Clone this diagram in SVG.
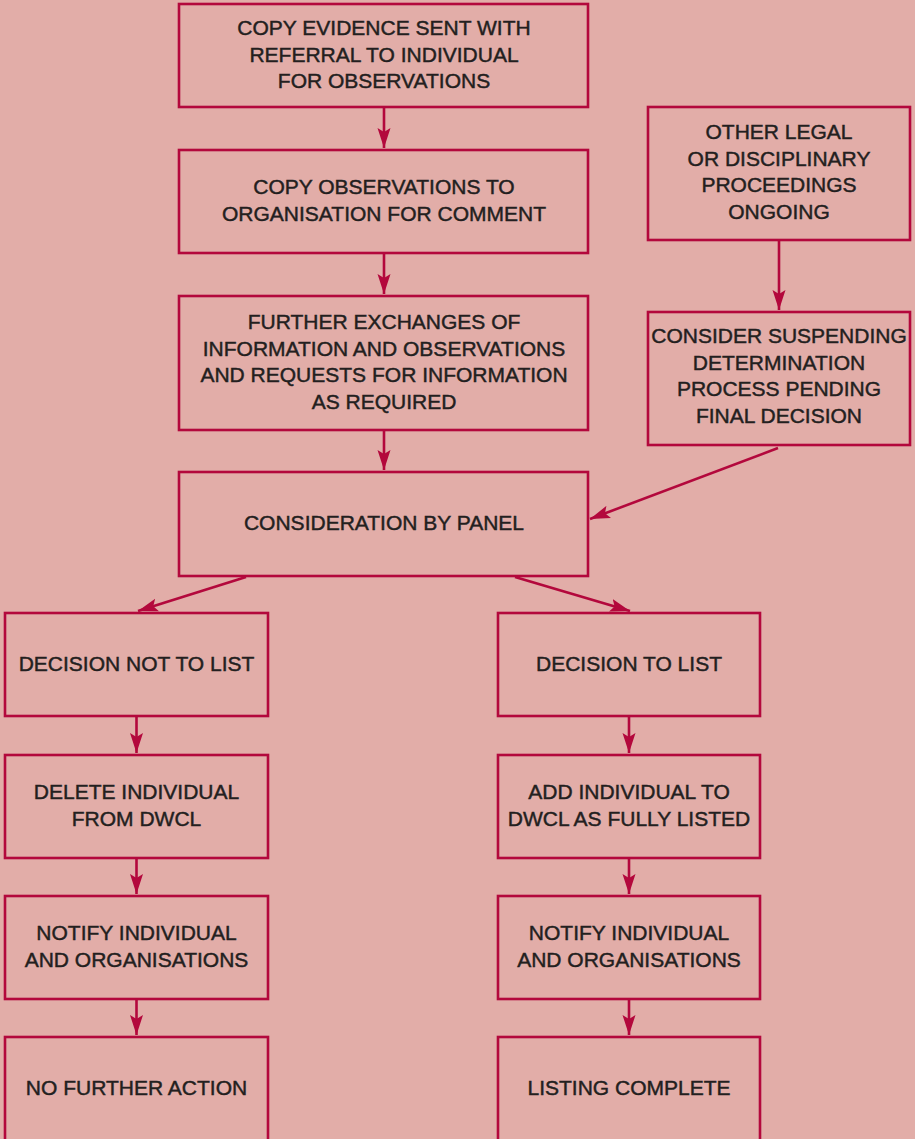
<svg xmlns="http://www.w3.org/2000/svg" width="915" height="1139" viewBox="0 0 915 1139">
<style>
.bx{fill:none;stroke:#B3083C;stroke-width:2.6}
.t{font-family:"Liberation Sans",Arial,sans-serif;font-size:21px;fill:#231F20;stroke:#231F20;stroke-width:0.45;text-anchor:middle}
.c{stroke:#B3083C;stroke-width:2.6;fill:none;marker-end:url(#ah)}
</style>
<defs>
<marker id="ah" markerUnits="userSpaceOnUse" markerWidth="22" markerHeight="14" refX="20" refY="6.5" orient="auto" viewBox="0 0 22 13">
<path d="M0,0 L20,6.5 L0,13 L4,6.5 z" fill="#B3083C"/>
</marker>
</defs>
<rect width="915" height="1139" fill="#E2ADA8"/>
<g id="n1"><rect class="bx" x="179" y="4" width="409" height="103"/>
<text class="t" x="384" y="35">COPY EVIDENCE SENT WITH</text>
<text class="t" x="384" y="61.5">REFERRAL TO INDIVIDUAL</text>
<text class="t" x="384" y="88">FOR OBSERVATIONS</text></g>
<g id="n2"><rect class="bx" x="179" y="150" width="409" height="103"/>
<text class="t" x="384" y="194">COPY OBSERVATIONS TO</text>
<text class="t" x="384" y="220.5">ORGANISATION FOR COMMENT</text></g>
<g id="n3"><rect class="bx" x="179" y="296" width="409" height="134"/>
<text class="t" x="384" y="329">FURTHER EXCHANGES OF</text>
<text class="t" x="384" y="355.5">INFORMATION AND OBSERVATIONS</text>
<text class="t" x="384" y="382">AND REQUESTS FOR INFORMATION</text>
<text class="t" x="384" y="408.5">AS REQUIRED</text></g>
<g id="n4"><rect class="bx" x="179" y="472" width="409" height="104"/>
<text class="t" x="384" y="530">CONSIDERATION BY PANEL</text></g>
<g id="n5"><rect class="bx" x="648" y="107" width="262" height="133"/>
<text class="t" x="779" y="139">OTHER LEGAL</text>
<text class="t" x="779" y="165.5">OR DISCIPLINARY</text>
<text class="t" x="779" y="192">PROCEEDINGS</text>
<text class="t" x="779" y="218.5">ONGOING</text></g>
<g id="n6"><rect class="bx" x="648" y="312" width="262" height="133"/>
<text class="t" x="779" y="343">CONSIDER SUSPENDING</text>
<text class="t" x="779" y="369.5">DETERMINATION</text>
<text class="t" x="779" y="396">PROCESS PENDING</text>
<text class="t" x="779" y="422.5">FINAL DECISION</text></g>
<g id="n7"><rect class="bx" x="5" y="613" width="263" height="103"/>
<text class="t" x="136.5" y="670.5">DECISION NOT TO LIST</text></g>
<g id="n8"><rect class="bx" x="5" y="755" width="263" height="103"/>
<text class="t" x="136.5" y="799">DELETE INDIVIDUAL</text>
<text class="t" x="136.5" y="825.5">FROM DWCL</text></g>
<g id="n9"><rect class="bx" x="5" y="896" width="263" height="103"/>
<text class="t" x="136.5" y="940">NOTIFY INDIVIDUAL</text>
<text class="t" x="136.5" y="966.5">AND ORGANISATIONS</text></g>
<g id="n10"><rect class="bx" x="5" y="1037" width="263" height="120"/>
<text class="t" x="136.5" y="1095">NO FURTHER ACTION</text></g>
<g id="n11"><rect class="bx" x="498" y="613" width="262" height="103"/>
<text class="t" x="629" y="670.5">DECISION TO LIST</text></g>
<g id="n12"><rect class="bx" x="498" y="755" width="262" height="103"/>
<text class="t" x="629" y="799">ADD INDIVIDUAL TO</text>
<text class="t" x="629" y="825.5">DWCL AS FULLY LISTED</text></g>
<g id="n13"><rect class="bx" x="498" y="896" width="262" height="103"/>
<text class="t" x="629" y="940">NOTIFY INDIVIDUAL</text>
<text class="t" x="629" y="966.5">AND ORGANISATIONS</text></g>
<g id="n14"><rect class="bx" x="498" y="1037" width="262" height="120"/>
<text class="t" x="629" y="1095">LISTING COMPLETE</text></g>
<g id="connectors">
<path class="c" d="M384,107 L384,148"/>
<path class="c" d="M384,253 L384,294"/>
<path class="c" d="M384,430 L384,470"/>
<path class="c" d="M779,240 L779,310"/>
<path class="c" d="M778,448 L590,519"/>
<path class="c" d="M246,577 L138,611"/>
<path class="c" d="M515,577 L630,611"/>
<path class="c" d="M136.5,716 L136.5,753"/>
<path class="c" d="M136.5,858 L136.5,894"/>
<path class="c" d="M136.5,999 L136.5,1035"/>
<path class="c" d="M629,716 L629,753"/>
<path class="c" d="M629,858 L629,894"/>
<path class="c" d="M629,999 L629,1035"/>
</g>
</svg>
